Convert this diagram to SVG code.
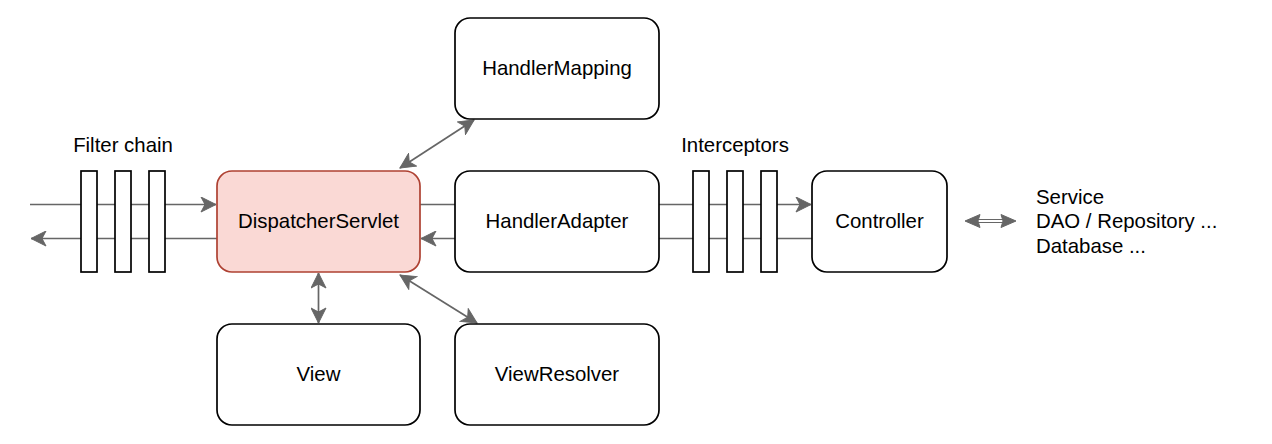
<svg xmlns="http://www.w3.org/2000/svg" width="1272" height="444" viewBox="0 0 1272 444">
<style>
  text { font-family: "Liberation Sans", Arial, Helvetica, sans-serif; font-size: 20.4px; fill: #000; }
  .c { text-anchor: middle; }
  .box { fill: #fff; stroke: #000; stroke-width: 1.7; }
  .ds { fill: #fad9d5; stroke: #ae4132; stroke-width: 1.7; }
  .bar { fill: #fff; stroke: #000; stroke-width: 1.7; }
  .ln { fill: none; stroke: #666; stroke-width: 1.7; }
</style>
<defs>
  <marker id="arr" markerUnits="userSpaceOnUse" viewBox="-16 -8 17 16" refX="0" refY="0" markerWidth="17" markerHeight="16" orient="auto-start-reverse">
    <path d="M0,0 L-15,-7.5 L-11,0 L-15,7.5 Z" fill="#666" stroke="#666" stroke-width="1"/>
  </marker>
</defs>

<g id="connectors">
  <line class="ln" x1="30" y1="204.5" x2="216" y2="204.5" marker-end="url(#arr)"/>
  <line class="ln" x1="217" y1="238.5" x2="31" y2="238.5" marker-end="url(#arr)"/>
  <line class="ln" x1="420" y1="204.5" x2="811" y2="204.5" marker-end="url(#arr)"/>
  <line class="ln" x1="812" y1="238.5" x2="421" y2="238.5" marker-end="url(#arr)"/>
  <line class="ln" x1="400" y1="168" x2="474" y2="120" marker-start="url(#arr)" marker-end="url(#arr)"/>
  <line class="ln" x1="400" y1="275" x2="477" y2="323" marker-start="url(#arr)" marker-end="url(#arr)"/>
  <line class="ln" x1="318.5" y1="273" x2="318.5" y2="323" marker-start="url(#arr)" marker-end="url(#arr)"/>
  <g id="service-link">
    <rect x="977" y="219.5" width="27" height="3" fill="#fff" stroke="#666" stroke-width="1"/>
    <path d="M965,221 L980,214.5 L978,221 L980,227.5 Z" fill="#666" stroke="#666" stroke-width="1" stroke-linejoin="round"/>
    <path d="M1016,221 L1001,214.5 L1003,221 L1001,227.5 Z" fill="#666" stroke="#666" stroke-width="1" stroke-linejoin="round"/>
  </g>
</g>

<g id="filter-chain">
  <rect class="bar" x="81" y="171" width="16" height="101"/>
  <rect class="bar" x="115" y="171" width="16" height="101"/>
  <rect class="bar" x="149" y="171" width="16" height="101"/>
  <text class="c" x="123" y="151.5">Filter chain</text>
</g>

<g id="interceptors">
  <rect class="bar" x="693" y="171" width="16" height="101"/>
  <rect class="bar" x="727" y="171" width="16" height="101"/>
  <rect class="bar" x="761" y="171" width="16" height="101"/>
  <text class="c" x="735" y="151.5">Interceptors</text>
</g>

<g id="dispatcher-servlet">
  <rect class="ds" x="217" y="171" width="203" height="101" rx="15" ry="15"/>
  <text class="c" x="318.5" y="228.2">DispatcherServlet</text>
</g>

<g id="handler-mapping">
  <rect class="box" x="455" y="18" width="204" height="101" rx="15" ry="15"/>
  <text class="c" x="557" y="75.2">HandlerMapping</text>
</g>

<g id="handler-adapter">
  <rect class="box" x="455" y="171" width="204" height="101" rx="15" ry="15"/>
  <text class="c" x="557" y="228.2">HandlerAdapter</text>
</g>

<g id="view">
  <rect class="box" x="217" y="324" width="203" height="101" rx="15" ry="15"/>
  <text class="c" x="318.5" y="381.2">View</text>
</g>

<g id="view-resolver">
  <rect class="box" x="455" y="324" width="204" height="101" rx="15" ry="15"/>
  <text class="c" x="557" y="381.2">ViewResolver</text>
</g>

<g id="controller">
  <rect class="box" x="812" y="171" width="135" height="101" rx="15" ry="15"/>
  <text class="c" x="879.5" y="228.2">Controller</text>
</g>

<g id="services">
  <text x="1036" y="203.5">Service</text>
  <text x="1036" y="228">DAO / Repository ...</text>
  <text x="1036" y="252.5">Database ...</text>
</g>
</svg>
